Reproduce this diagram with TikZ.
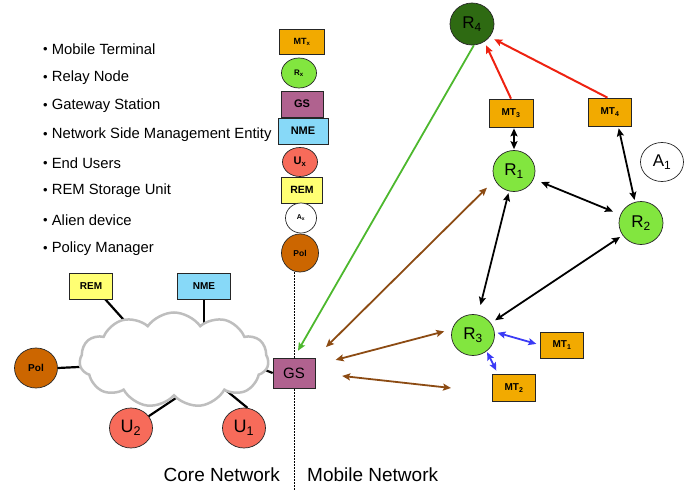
\documentclass[tikz,border=0pt]{standalone}
\usepackage{fontspec}
\setmainfont{Liberation Sans}
\usetikzlibrary{shapes.geometric,shapes.symbols,arrows.meta}
\pgfdeclarelayer{background}
\pgfsetlayers{background,main}
\definecolor{mtc}{HTML}{F2AA00}
\definecolor{rc}{HTML}{82E63F}
\definecolor{gsc}{HTML}{B0628F}
\definecolor{nmec}{HTML}{87D9F8}
\definecolor{uc}{HTML}{F76B5A}
\definecolor{remc}{HTML}{FFFF73}
\definecolor{polc}{HTML}{CC6600}
\definecolor{r4c}{HTML}{2E6A12}
\definecolor{redc}{HTML}{EE2211}
\definecolor{bluec}{HTML}{3B3BF5}
\definecolor{brownc}{HTML}{8C4B13}
\definecolor{greenc}{HTML}{4DB82E}
\definecolor{cloudc}{HTML}{BEBEBE}
\begin{document}
\begin{tikzpicture}[x=1pt,y=-1pt,
  ent/.style={draw=black!85, line width=0.7pt, inner sep=0pt, text=black},
  sq/.style={ent, rectangle},
  rd/.style={ent, ellipse},
  mtn/.style={sq, fill=mtc},
  rn/.style={rd, fill=rc},
  gsn/.style={sq, fill=gsc},
  nmen/.style={sq, fill=nmec},
  un/.style={rd, fill=uc},
  remn/.style={sq, fill=remc},
  an/.style={rd, fill=white},
  poln/.style={rd, fill=polc},
  bf/.style={font=\bfseries\fontsize{#1}{#1}\selectfont},
  rg/.style={font=\fontsize{#1}{#1}\selectfont},
  leg/.style={anchor=west, inner sep=0pt, font=\fontsize{14.8}{17}\selectfont},
  sarr/.style={-{Stealth[length=8pt,width=7pt,inset=1.5pt]}},
  darr/.style={{Stealth[length=8pt,width=7pt,inset=1.5pt]}-{Stealth[length=8pt,width=7pt,inset=1.5pt]}},
  redline/.style={sarr, draw=redc, line width=2pt},
  grnline/.style={sarr, draw=greenc, line width=1.8pt},
  brline/.style={darr, draw=brownc, line width=1.8pt},
  bkline/.style={darr, draw=black, line width=1.8pt},
  blline/.style={darr, draw=bluec, line width=1.8pt},
  cline/.style={draw=black, line width=2.2pt},
]
\useasboundingbox (0,0) rectangle (694,490);

% legend
\newcommand{\lb}{\raisebox{0.6pt}{\fontsize{13}{13}\selectfont\textbullet}\ }
\node[leg] (l1) at (43,49) {\lb Mobile Terminal};
\node[leg] (l2) at (43,78) {\lb Relay Node};
\node[leg] (l3) at (43,106) {\lb Gateway Station};
\node[leg] (l4) at (43,135) {\lb Network Side Management Entity};
\node[leg] (l5) at (43,163) {\lb End Users};
\node[leg] (l6) at (43,191) {\lb REM Storage Unit};
\node[leg] (l7) at (43,220) {\lb Alien device};
\node[leg] (l8) at (43,249) {\lb Policy Manager};

\node[mtn, minimum width=45pt, minimum height=25pt, bf=9] (kmt) at (302,42) {MT\textsubscript{x}};
\node[rn, minimum width=35pt, minimum height=30pt, bf=8] (kr) at (299,73) {R\textsubscript{x}};
\node[gsn, minimum width=42pt, minimum height=26pt, bf=11] (kgs) at (302,104) {GS};
\node[nmen, minimum width=50pt, minimum height=26pt, bf=11] (knme) at (303,131) {NME};
\node[un, minimum width=35pt, minimum height=29pt, bf=11] (ku) at (300,162) {U\textsubscript{x}};
\node[remn, minimum width=41pt, minimum height=26pt, bf=10.5] (krem) at (302,190) {REM};
\node[an, minimum width=31pt, minimum height=30pt, bf=7] (ka) at (301,218) {A\textsubscript{x}};
\node[poln, minimum width=37pt, minimum height=38pt, bf=8.5] (kpol) at (300,253) {Pol};

% core network
\node[remn, minimum width=43pt, minimum height=26pt, bf=10] (rem) at (91,286) {REM};
\node[nmen, minimum width=53pt, minimum height=26pt, bf=10] (nme) at (204,286) {NME};
\node[poln, minimum width=43pt, minimum height=40pt, bf=10] (pol) at (36,368) {Pol};
\node[cloud, cloud puffs=11, cloud puff arc=110, aspect=2, draw=cloudc, fill=white,
      line width=2.5pt, minimum width=189pt, minimum height=95pt, inner sep=0pt] (cloud) at (174,360) {};
\node[gsn, minimum width=42pt, minimum height=30pt, rg=15] (gs) at (294,373) {GS};
\node[un, minimum width=43pt, minimum height=40pt, rg=18] (u2) at (131,428) {U\textsubscript{2}};
\node[un, minimum width=43pt, minimum height=40pt, rg=18] (u1) at (244,428) {U\textsubscript{1}};

\coordinate (crem) at (140,338);
\coordinate (cpol) at (120,365);
\coordinate (cu2) at (185,392);
\coordinate (cu1) at (222,387);
\coordinate (cgs) at (240,360);
\coordinate (bot) at (293,490);
\coordinate (bfree) at (451,388);

% mobile network
\node[rd, fill=r4c, minimum width=44pt, minimum height=42pt, rg=17] (r4) at (472,24) {R\textsubscript{4}};
\node[mtn, minimum width=44pt, minimum height=28pt, bf=10] (mt3) at (511,113) {MT\textsubscript{3}};
\node[mtn, minimum width=43pt, minimum height=28pt, bf=10] (mt4) at (610,112) {MT\textsubscript{4}};
\node[an, minimum width=43pt, minimum height=39pt, rg=17] (a1) at (662,162) {A\textsubscript{1}};
\node[rn, minimum width=42pt, minimum height=41pt, rg=17] (r1) at (514,171) {R\textsubscript{1}};
\node[rn, minimum width=44pt, minimum height=43pt, rg=17] (r2) at (641,223) {R\textsubscript{2}};
\node[rn, minimum width=43pt, minimum height=41pt, rg=17] (r3) at (473,335) {R\textsubscript{3}};
\node[mtn, minimum width=43pt, minimum height=26pt, bf=10] (mt1) at (562,345) {MT\textsubscript{1}};
\node[mtn, minimum width=43pt, minimum height=27pt, bf=10] (mt2) at (514,388) {MT\textsubscript{2}};

\node[anchor=east, inner sep=0pt, rg=19] (core) at (280,475) {Core Network};
\node[anchor=west, inner sep=0pt, rg=19] (mob) at (307,475) {Mobile Network};

\begin{pgfonlayer}{background}
\draw[black, line width=0.8pt, dash pattern=on 1.5pt off 1.5pt] (gs.center |- kpol.south) -- (gs.center |- bot);
\draw[cline] (rem.-43) -- (crem);
\draw[cline] (nme.south) -- (nme.south |- cloud.center);
\draw[cline] (pol.east) -- (cpol);
\draw[cline] (u2) -- (cu2);
\draw[cline] (u1.80) -- (cu1);
\draw[cline] (gs.west) -- (cgs);
\end{pgfonlayer}

% connectors
\draw[redline, shorten >=4pt] (mt3.north) -- (r4.-55);
\draw[redline, shorten >=5pt] (mt4.100) -- (r4.-36);
\draw[grnline, shorten >=8pt] (r4.-85) -- (gs.north);
\draw[brline, shorten <=15pt, shorten >=11pt] (gs.north east) -- (r1.205);
\draw[brline, shorten <=21pt, shorten >=8pt] (gs.20) -- (r3.165);
\draw[brline, shorten <=27pt] (gs.east) -- (bfree);
\draw[bkline, shorten <=8pt, shorten >=8pt] (r1) -- (r2);
\draw[bkline, shorten <=1pt, shorten >=1pt] (r1.north) -- (r1.north |- mt3.south);
\draw[bkline, shorten <=2pt, shorten >=10pt] (r1) -- (r3);
\draw[bkline, shorten <=3pt, shorten >=5pt] (r2) -- (r3);
\draw[bkline, shorten <=2pt, shorten >=2pt] (mt4.-60) -- (r2.106);
\draw[blline, shorten <=3pt, shorten >=4pt] (r3.8) -- (mt1.west);
\draw[blline, shorten <=1pt, shorten >=4pt] (r3.-50) -- (mt2.139);
\end{tikzpicture}
\end{document}
